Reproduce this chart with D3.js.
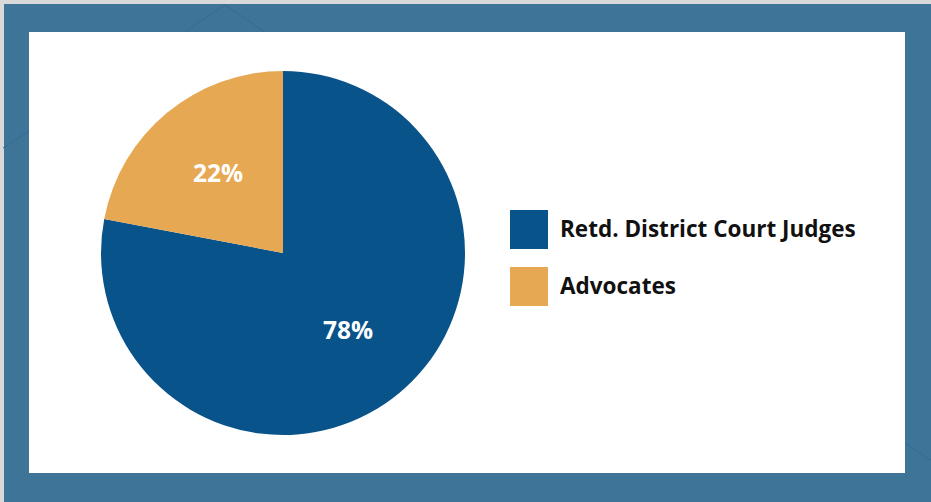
<!DOCTYPE html>
<html><head><meta charset="utf-8">
<script src="https://cdn.jsdelivr.net/npm/d3@7"></script>
<style>html,body{margin:0;padding:0;background:#d9d9d9;overflow:hidden}</style>
</head><body>
<svg id="chart" width="931" height="502"></svg>
<script>
const categories = ["Retd. District Court Judges", "Advocates"];
const values = [78, 22];
const labels = ["78%", "22%"];
const colors = ["#08538a", "#e6a852"];

const svg = d3.select("#chart");
const W = 931, H = 502;

// frame
svg.append("rect").attr("x", 4).attr("y", 4).attr("width", W - 4).attr("height", H - 4).attr("fill", "#3f7499");
const deco = [
  [[185, 32], [225, 5], [265, 32]],
  [[3, 148], [29, 131]],
  [[905, 443], [931, 460]]
];
deco.forEach(pts => svg.append("path").attr("d", d3.line()(pts)).attr("fill", "none").attr("stroke", "#366a90").attr("stroke-width", 1));
svg.append("rect").attr("x", 29).attr("y", 32).attr("width", 876).attr("height", 441).attr("fill", "#ffffff");

// pie
const cx = 283, cy = 253, R = 182;
const data = categories.map((c, i) => ({ name: c, value: values[i], label: labels[i], color: colors[i] }));
const pie = d3.pie().value(d => d.value).sort(null);
const arcs = pie(data);
const arc = d3.arc().innerRadius(0).outerRadius(R);
const labelArc = d3.arc().innerRadius(R * 0.56).outerRadius(R * 0.56);
const g = svg.append("g").attr("transform", `translate(${cx},${cy})`);
g.selectAll("path.slice").data(arcs).join("path").attr("class", "slice")
  .attr("d", arc).attr("fill", d => d.data.color);
g.selectAll("text.lbl").data(arcs).join("text").attr("class", "lbl")
  .attr("transform", d => { const [x, y] = labelArc.centroid(d); return `translate(${x},${y})`; })
  .attr("text-anchor", "middle").attr("dy", "0.3em")
  .attr("fill", "#ffffff").attr("font-family", "'Open Sans', sans-serif").attr("font-weight", 700).attr("font-size", 24.5)
  .text(d => d.data.label);

// legend
const leg = svg.append("g").attr("transform", "translate(510,210)");
const legY = d3.scalePoint().domain(categories).range([0, 57]);
const item = leg.selectAll("g").data(data).join("g").attr("transform", d => `translate(0,${legY(d.name)})`);
item.append("rect").attr("width", 38).attr("height", 39).attr("fill", d => d.color);
item.append("text").attr("x", 50).attr("y", 19.5).attr("dy", "0.35em")
  .attr("font-family", "'Open Sans', sans-serif").attr("font-weight", 700).attr("font-size", 22.5).attr("fill", "#111")
  .text(d => d.name);
</script>
</body></html>
